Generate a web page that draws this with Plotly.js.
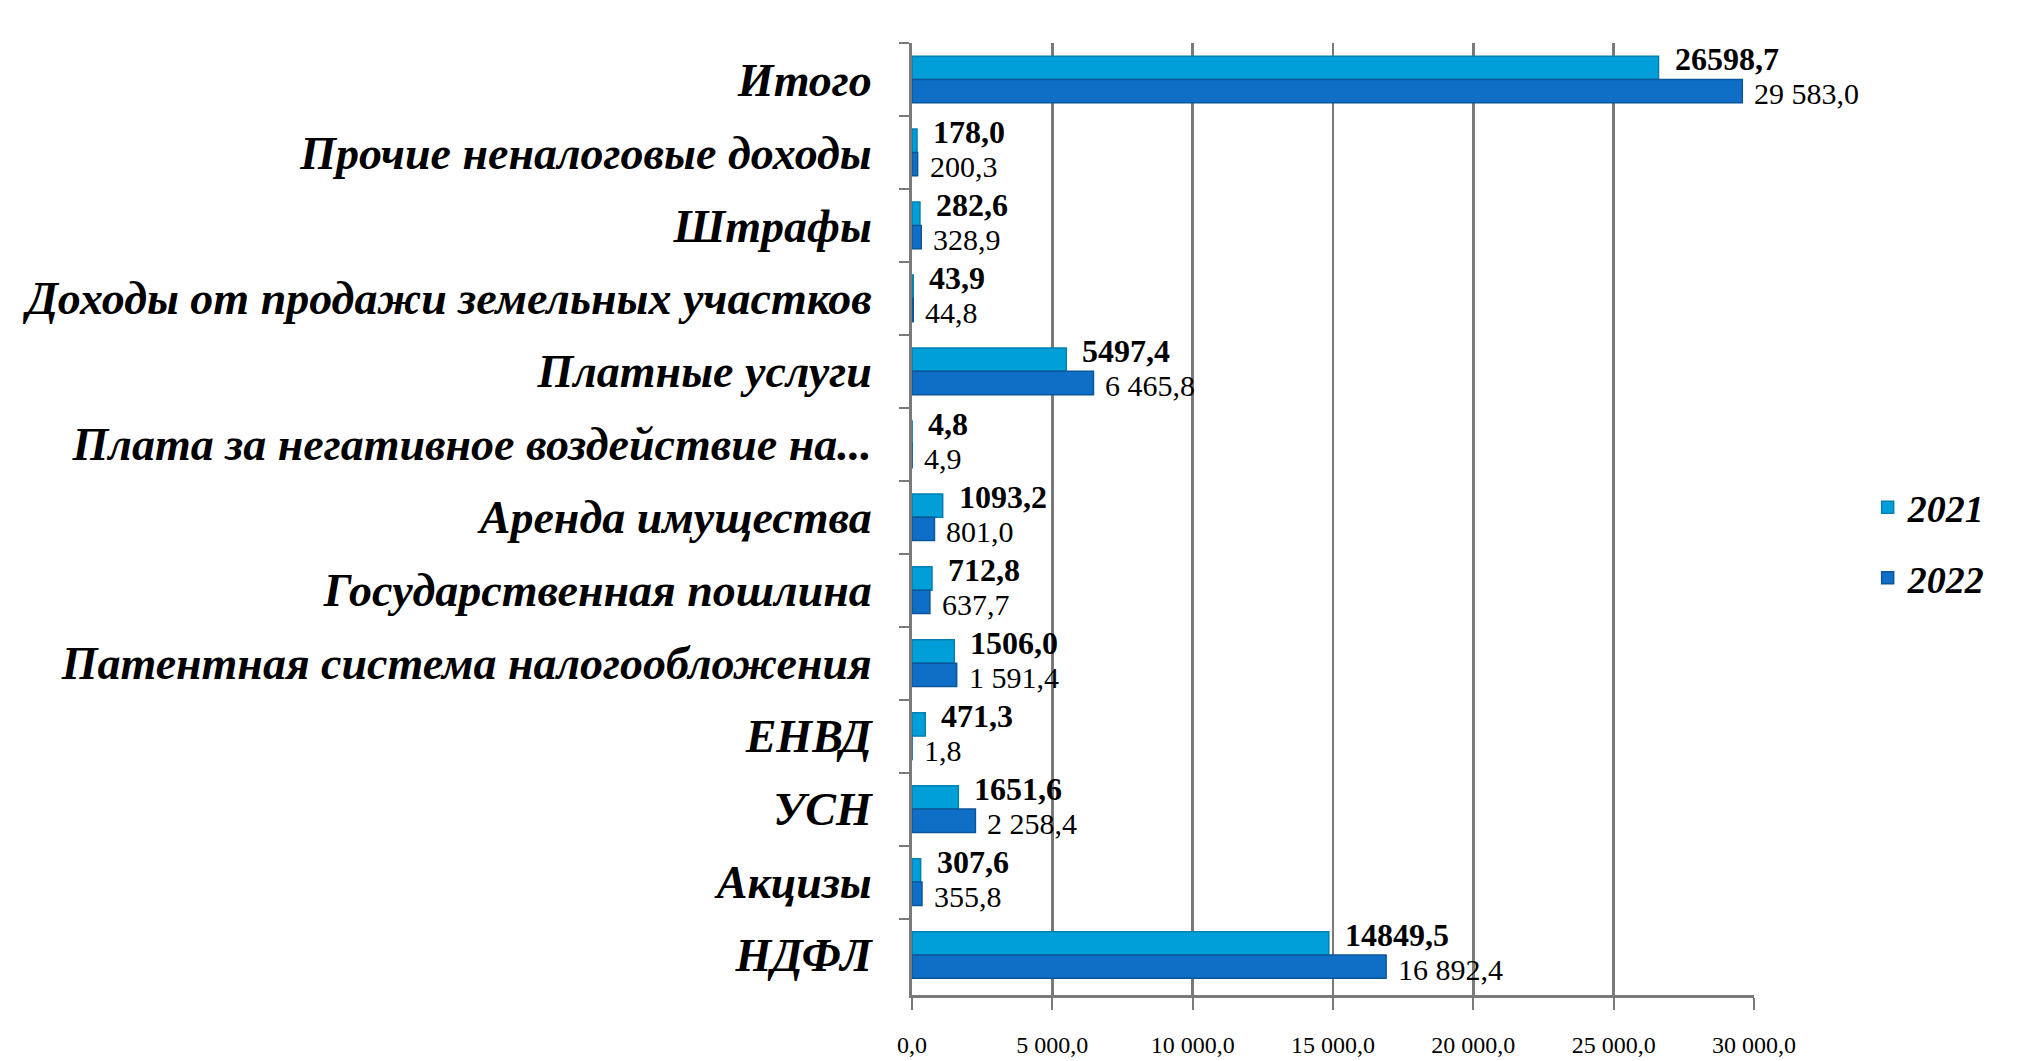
<!DOCTYPE html>
<html>
<head>
<meta charset="utf-8">
<script src="https://cdn.plot.ly/plotly-3.0.1.min.js"></script>
<style>
html,body{margin:0;padding:0;background:#ffffff;}
#chart{width:2018px;height:1061px;}
</style>
</head>
<body>
<div id="chart"></div>
<script>
const categories = [
  'Итого',
  'Прочие неналоговые доходы',
  'Штрафы',
  'Доходы от продажи земельных участков',
  'Платные услуги',
  'Плата за негативное воздействие на...',
  'Аренда имущества',
  'Государственная пошлина',
  'Патентная система налогообложения',
  'ЕНВД',
  'УСН',
  'Акцизы',
  'НДФЛ'
];
const values2021 = [26598.7, 178.0, 282.6, 43.9, 5497.4, 4.8, 1093.2, 712.8, 1506.0, 471.3, 1651.6, 307.6, 14849.5];
const values2022 = [29583.0, 200.3, 328.9, 44.8, 6465.8, 4.9, 801.0, 637.7, 1591.4, 1.8, 2258.4, 355.8, 16892.4];
const seriesNames = ['2021', '2022'];
const xTicks = [0, 5000, 10000, 15000, 20000, 25000, 30000];

function fmt(v, group) {
  const s = v.toFixed(1);
  let [ip, dp] = s.split('.');
  if (group) ip = ip.replace(/\B(?=(\d{3})+(?!\d))/g, ' ');
  return ip + ',' + dp;
}

const FONT = '"Liberation Serif", "DejaVu Serif", serif';
const c2021 = '#009FDA';
const c2022 = '#0F6FC6';

const traces = [
  {
    type: 'bar', orientation: 'h', name: seriesNames[0], legendgroup: 'a',
    y: categories, x: values2021,
    marker: {color: c2021, line: {color: '#0080B0', width: 1.5}},
    hoverinfo: 'x+y'
  },
  {
    type: 'bar', orientation: 'h', name: seriesNames[1], legendgroup: 'b',
    y: categories, x: values2022,
    marker: {color: c2022, line: {color: '#0B559A', width: 1.5}},
    hoverinfo: 'x+y'
  }
];

const annotations = [];
categories.forEach((c, i) => {
  annotations.push({
    x: values2021[i], y: c, xref: 'x', yref: 'y',
    text: '<b>' + fmt(values2021[i], false) + '</b>',
    showarrow: false, xanchor: 'left', yanchor: 'middle',
    xshift: 14, yshift: 20,
    font: {family: FONT, size: 32, color: '#000000'}
  });
  annotations.push({
    x: values2022[i], y: c, xref: 'x', yref: 'y',
    text: fmt(values2022[i], true),
    showarrow: false, xanchor: 'left', yanchor: 'middle',
    xshift: 10, yshift: -14,
    font: {family: FONT, size: 30, color: '#000000'}
  });
});

const layout = {
  width: 2018, height: 1061,
  paper_bgcolor: '#ffffff', plot_bgcolor: '#ffffff',
  margin: {l: 912, r: 264, t: 43, b: 66},
  barmode: 'group',
  bargap: 0.36,
  bargroupgap: 0,
  showlegend: true,
  legend: {
    x: 1.135, y: 0.545, xanchor: 'left', yanchor: 'top',
    traceorder: 'grouped', tracegroupgap: 18,
    font: {family: FONT, size: 38, color: '#000000', weight: 'bold', style: 'italic'},
    bgcolor: 'rgba(0,0,0,0)'
  },
  xaxis: {
    range: [0, 30000],
    tickvals: xTicks,
    tickformat: ',.1f',
    showgrid: true, gridcolor: '#7a7a7a', gridwidth: 2.5,
    zeroline: false,
    showline: true, linecolor: '#7a7a7a', linewidth: 3,
    ticks: 'outside', ticklen: 12, tickcolor: '#7a7a7a', tickwidth: 2,
    ticklabelstandoff: 14,
    tickfont: {family: FONT, size: 24, color: '#000000'},
    fixedrange: true
  },
  yaxis: {
    type: 'category',
    autorange: 'reversed',
    showgrid: false, zeroline: false,
    showline: true, linecolor: '#7a7a7a', linewidth: 3,
    ticks: 'outside', tickson: 'boundaries', ticklen: 10, tickcolor: '#7a7a7a', tickwidth: 2,
    ticklabelstandoff: 28,
    tickfont: {family: FONT, size: 46, color: '#000000', weight: 'bold', style: 'italic'},
    fixedrange: true
  },
  separators: ', ',
  annotations: annotations
};

Plotly.newPlot('chart', traces, layout, {displayModeBar: false, staticPlot: true});
</script>
</body>
</html>
